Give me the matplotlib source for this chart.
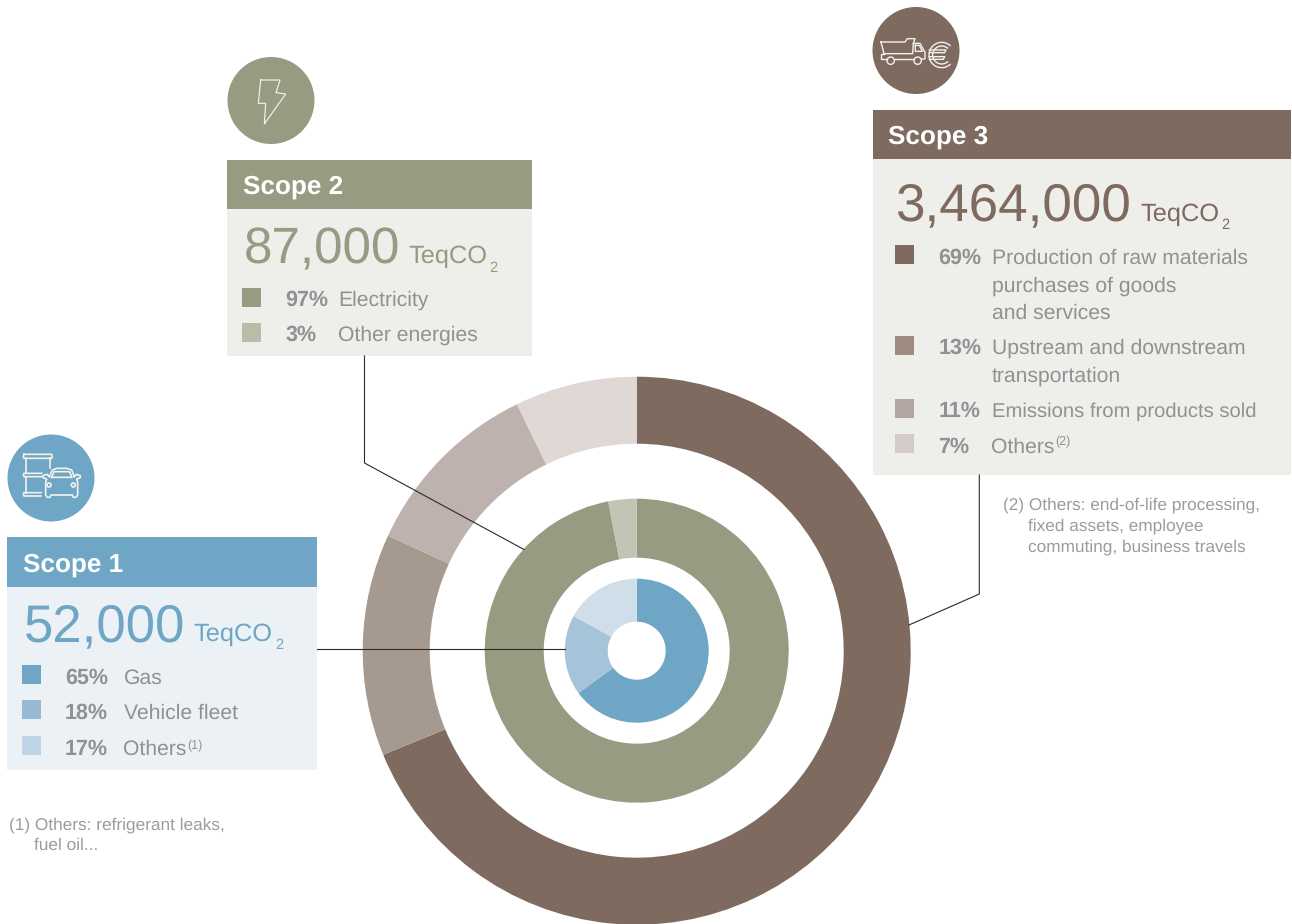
import numpy as np
import matplotlib
matplotlib.use("Agg")
import matplotlib.pyplot as plt
from matplotlib.patches import Rectangle, Circle, Arc

plt.rcParams["font.family"] = ["Liberation Sans", "DejaVu Sans"]
plt.rcParams["text.hinting"] = "no_hinting"
plt.rcParams["text.kerning_factor"] = 0

# ── Data ──────────────────────────────────────────────────────────────────────
scope1_vals = [65, 18, 17]
scope2_vals = [97, 3]
scope3_vals = [68.8, 13.1, 10.9, 7.2]   # as drawn; the legend rounds them

scope1_labels = ["Gas", "Vehicle fleet", "Others"]
scope2_labels = ["Electricity", "Other energies"]
scope3_labels = ["Production of raw materials\npurchases of goods\nand services",
                 "Upstream and downstream\ntransportation",
                 "Emissions from products sold", "Others"]

scope1_total = "52,000"
scope2_total = "87,000"
scope3_total = "3,464,000"

# ── Colours ───────────────────────────────────────────────────────────────────
BLUE, OLIVE, BROWN = "#6fa6c5", "#989a82", "#7f6a5f"
BODY_BLUE, BODY_GREY = "#ecf1f5", "#eeefeb"
TXT = "#8f9293"
NOTE = "#9a9c9d"
ICON = "#f2f2ee"

ring1_cols = [BLUE, "#a5c3d9", "#d0dee9"]
ring2_cols = [OLIVE, "#c3c4b6"]
ring3_cols = [BROWN, "#a69a90", "#bdb2ad", "#e0d8d5"]

key1_cols = [BLUE, "#97b9d3", "#bfd4e6"]
key2_cols = [OLIVE, "#bbbca8"]
key3_cols = [BROWN, "#9e8b80", "#b3a5a0", "#d4cac7"]

W, H = 1292, 924
CX, CY = 636.7, 650.7

fig = plt.figure(figsize=(W / 100, H / 100), dpi=100, facecolor="white")

# ── Rings (y up, so the pies run clockwise from the top) ──────────────────────
ax_pie = fig.add_axes([0, 0, 1, 1])
for vals, cols, r_out, r_in in [(scope3_vals, ring3_cols, 274, 207),
                                (scope2_vals, ring2_cols, 152, 93),
                                (scope1_vals, ring1_cols, 72, 29)]:
    ax_pie.pie(vals, colors=cols, radius=r_out, center=(CX, H - CY), startangle=90,
               counterclock=False, wedgeprops=dict(width=r_out - r_in, linewidth=0))
ax_pie.set_xlim(0, W)
ax_pie.set_ylim(0, H)
ax_pie.axis("off")

# ── Everything else in pixel coordinates ──────────────────────────────────────
ax = fig.add_axes([0, 0, 1, 1], zorder=2)
ax.set_xlim(0, W)
ax.set_ylim(H, 0)
ax.axis("off")
ax.patch.set_alpha(0)


def txt(x, y, s, size, color, **kw):
    ax.text(x, y, s, fontsize=size, color=color, va="baseline", ha="left", **kw)


def box(x0, x1, y0, y1, y2, col, body):
    ax.add_patch(Rectangle((x0, y0), x1 - x0, y1 - y0, fc=col, lw=0))
    ax.add_patch(Rectangle((x0, y1), x1 - x0, y2 - y1, fc=body, lw=0))


def leader(xs, ys):
    ax.plot(xs, ys, color="#2a2a2a", lw=0.8, solid_joinstyle="miter")


def icon_line(pts, ox, oy, closed=False, lw=1.0):
    p = np.array(pts, dtype=float) / 3.0 + (ox, oy)
    if closed:
        p = np.vstack([p, p[0]])
    ax.plot(p[:, 0], p[:, 1], color=ICON, lw=lw, solid_joinstyle="round")


def icon_ring(x, y, r, ox, oy, lw=1.0):
    ax.add_patch(Circle((x / 3.0 + ox, y / 3.0 + oy), r / 3.0, fc="none", ec=ICON, lw=lw))


def panel(name, hx, hy, total, size, tx, ty, unit_x, unit_y, sub_x, sub_y, col):
    txt(hx, hy, name, 18.8, "white", fontweight="bold")
    txt(tx, ty, total, size, col)
    txt(unit_x, unit_y, "TeqCO", 18.3, col)
    txt(sub_x, sub_y, "2", 10.5, col)


# Boxes
box(7, 317, 537, 587, 770, BLUE, BODY_BLUE)
box(227, 532, 160, 209, 356, OLIVE, BODY_GREY)
box(873, 1291, 110, 159, 475, BROWN, BODY_GREY)

panel("Scope 1", 23, 572, scope1_total, 38, 24, 641, 193, 641, 275.5, 649, BLUE)
panel("Scope 2", 243, 194, scope2_total, 36.8, 244, 263, 408, 263, 489.5, 272, OLIVE)
panel("Scope 3", 888.5, 144, scope3_total, 38.2, 896, 220, 1140, 221, 1221.5, 229, BROWN)

# Legend rows: key top, first baseline
rows1 = [(665, 684), (700, 719), (736, 755)]
rows2 = [(288, 306), (323, 341)]
rows3 = [(245, 264), (336, 354), (399, 417), (434, 453)]
line_gap3 = 27.2

for vals, labels, cols, rows, kx, px, lx in [
        (scope1_vals, scope1_labels, key1_cols, rows1, 22, 65, 123.5),
        (scope2_vals, scope2_labels, key2_cols, rows2, 242, 285, 338.5),
        (scope3_vals, scope3_labels, key3_cols, rows3, 895, 938.5, 991.5)]:
    for v, lab, c, (ky, by) in zip(vals, labels, cols, rows):
        ax.add_patch(Rectangle((kx, ky), 19, 19, fc=c, lw=0))
        txt(px, by, f"{round(v)}%", 15.5, TXT, fontweight="bold")
        size = 14.6 if lab.startswith("Emissions") else 15.25
        for i, part in enumerate(lab.split("\n")):
            txt(lx, by + i * line_gap3, part, size, TXT)

txt(187.5, 749, "(1)", 9, TXT)
txt(1055.5, 445, "(2)", 9, TXT)

# Footnotes
txt(9, 829.5, "(1) Others: refrigerant leaks,", 12.4, NOTE)
txt(34.5, 850, "fuel oil...", 12.4, NOTE)
txt(1003, 509.5, "(2) Others: end-of-life processing,", 12.4, NOTE)
txt(1028, 530, "fixed assets, employee", 12.4, NOTE)
txt(1028, 551, "commuting, business travels", 12.4, NOTE)

# Leader lines
leader([317, 565], [649, 649])
leader([364.5, 364.5, 524], [356, 463, 549.5])
leader([979.3, 979.3, 909], [475, 594, 625])

# ── Icons ─────────────────────────────────────────────────────────────────────
ax.add_patch(Circle((51, 478), 43.5, fc=BLUE, lw=0))
ax.add_patch(Circle((271, 100.5), 43.5, fc=OLIVE, lw=0))
ax.add_patch(Circle((916, 50.5), 43.5, fc=BROWN, lw=0))

# Bolt
icon_line([(122, 30), (180, 30), (168, 68), (197, 72), (133, 162), (137, 100), (115, 100)],
          220, 70, closed=True, lw=0.85)

# Barrel
ox, oy = 15, 445
LW = 1.2
icon_line([(27, 28), (110, 28), (112, 34), (110, 40), (27, 40), (25, 34)], ox, oy, closed=True, lw=LW)
icon_line([(33, 40), (33, 85)], ox, oy, lw=LW)
icon_line([(105, 40), (105, 70)], ox, oy, lw=LW)
icon_line([(80, 85), (27, 85), (25, 90), (27, 95), (80, 95)], ox, oy, lw=LW)
icon_line([(33, 95), (33, 143)], ox, oy, lw=LW)
icon_line([(78, 143), (27, 143), (25, 148), (27, 153), (78, 153)], ox, oy, lw=LW)
# Car
icon_line([(103, 95), (112, 75), (125, 70), (155, 70), (170, 75), (178, 95)], ox, oy, lw=LW)
icon_line([(110, 97), (117, 80), (163, 80), (171, 97), (110, 97)], ox, oy, lw=LW)
icon_line([(103, 95), (96, 88), (84, 92), (84, 98), (95, 102), (92, 112), (92, 150), (97, 157),
           (105, 157), (108, 150), (172, 150), (175, 157), (183, 157), (188, 150), (188, 112),
           (185, 102), (196, 98), (196, 92), (184, 88), (178, 95)], ox, oy, lw=LW)
icon_ring(102, 120, 6, ox, oy, lw=LW)
icon_ring(175, 120, 6, ox, oy, lw=LW)

# Truck
ox, oy = 870, 20
icon_line([(33, 66), (105, 66), (112, 56), (135, 56), (130, 70), (128, 101), (42, 101), (33, 66)], ox, oy)
icon_line([(130, 70), (150, 70), (165, 97), (165, 117), (155, 117)], ox, oy)
icon_line([(136, 76), (148, 76), (157, 94), (136, 94), (136, 76)], ox, oy)
icon_line([(42, 101), (33, 101), (33, 118), (50, 118)], ox, oy)
icon_line([(74, 118), (131, 118)], ox, oy)
icon_ring(62, 122, 11, ox, oy)
icon_ring(143, 122, 11, ox, oy)
# Euro
for r in (38, 27):
    ax.add_patch(Arc((215 / 3 + ox, 105 / 3 + oy), 2 * r / 3, 2 * r / 3, theta1=45, theta2=315,
                     ec=ICON, lw=1.0))
icon_line([(178, 90), (228, 90), (224, 98), (178, 98)], ox, oy)
icon_line([(178, 110), (224, 110), (220, 118), (178, 118)], ox, oy)

fig.savefig("out.png", dpi=100)
